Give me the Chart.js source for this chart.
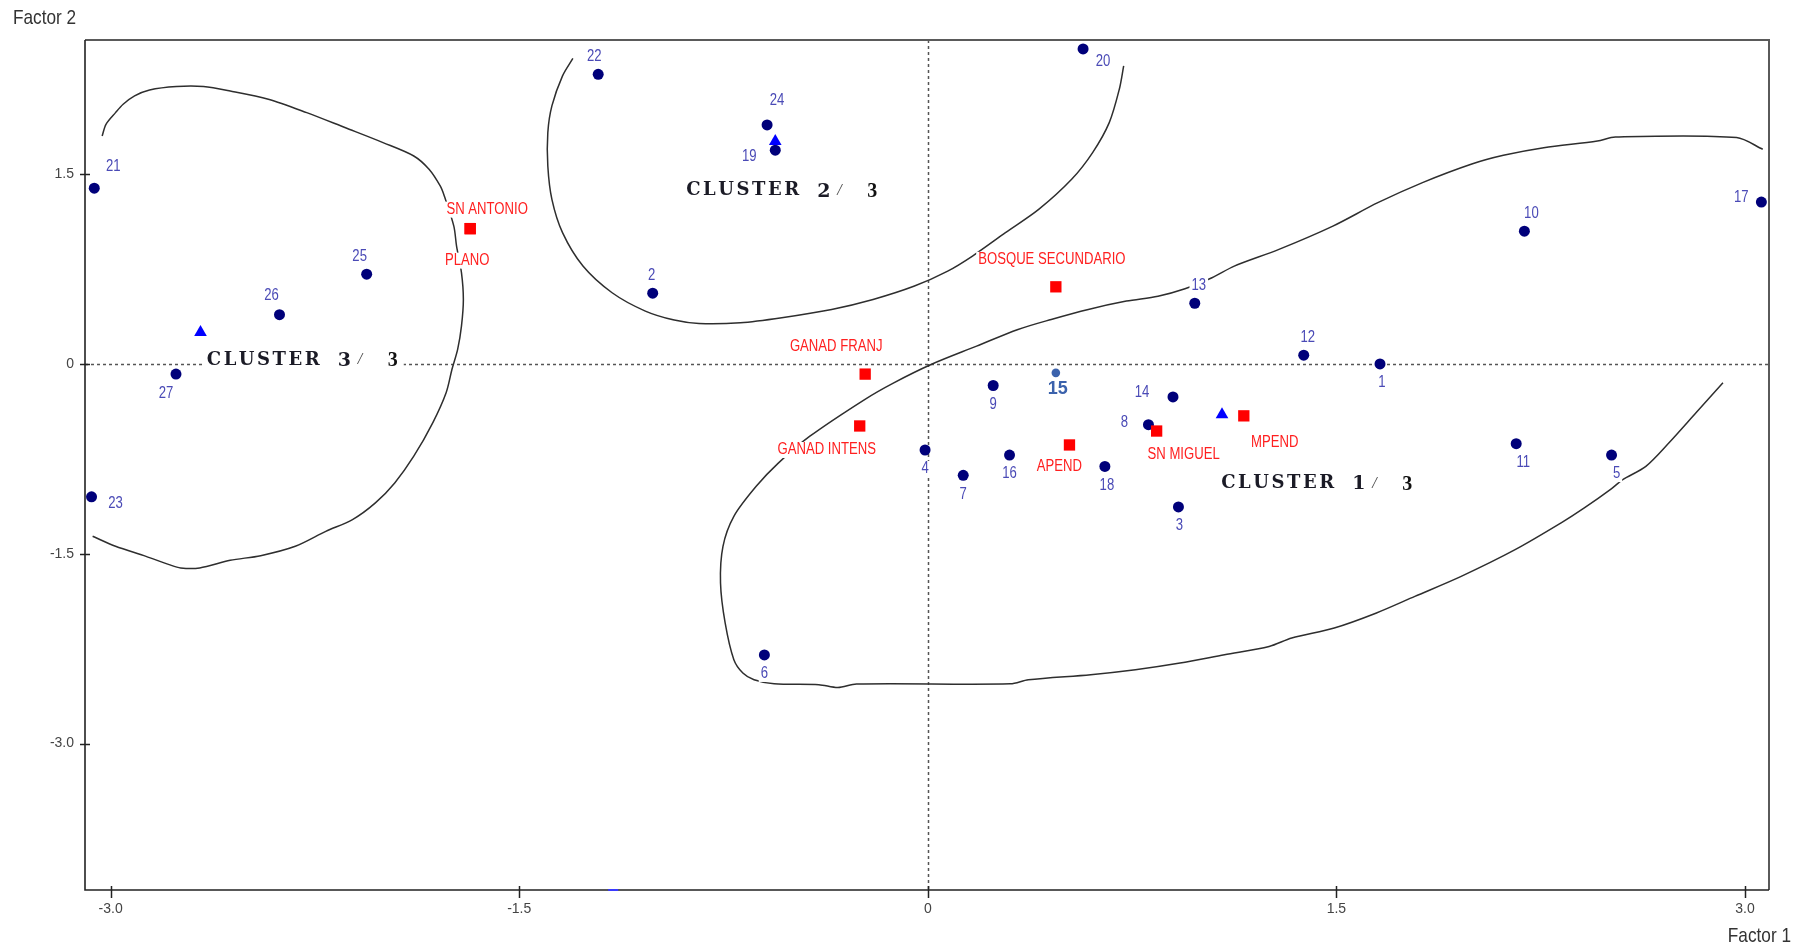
<!DOCTYPE html>
<html>
<head>
<meta charset="utf-8">
<title>Factor map – clusters</title>
<script src="https://cdn.jsdelivr.net/npm/chart.js@4.4.1/dist/chart.umd.min.js"></script>
<style>
  html, body { margin: 0; padding: 0; background: #ffffff; }
  canvas { display: block; }
</style>
</head>
<body>
<canvas id="map" width="1804" height="949"></canvas>
<script>
// ---------- data ----------
const xTickValues = [-3.0, -1.5, 0, 1.5, 3.0];
const xTickLabels = ['-3.0', '-1.5', '0', '1.5', '3.0'];
const yTickValues = [1.5, 0, -1.5, -3.0];
const yTickLabels = ['1.5', '0', '-1.5', '-3.0'];

// observations (factor 1, factor 2)
const obsIds = ['1','2','3','4','5','6','7','8','9','10','11','12','13','14','15','16','17','18','19','20','21','22','23','24','25','26','27'];
const obsF1 = [1.66, -1.01, 0.92, -0.01, 2.51, -0.60, 0.13, 0.81, 0.24, 2.19, 2.16, 1.38, 0.98, 0.90, 0.47, 0.30, 3.06, 0.65, -0.56, 0.57, -3.06, -1.21, -3.07, -0.59, -2.06, -2.38, -2.76];
const obsF2 = [0.00, 0.56, -1.13, -0.68, -0.72, -2.30, -0.88, -0.48, -0.17, 1.05, -0.63, 0.07, 0.48, -0.26, -0.07, -0.72, 1.28, -0.81, 1.69, 2.49, 1.39, 2.29, -1.05, 1.89, 0.71, 0.39, -0.08];

// supplementary categories
const catNames = ['SN ANTONIO', 'PLANO', 'BOSQUE SECUNDARIO', 'GANAD FRANJ', 'GANAD INTENS', 'APEND', 'SN MIGUEL', 'MPEND'];
const catF1 = [-1.68, -1.68, 0.47, -0.23, -0.25, 0.52, 0.84, 1.16];
const catF2 = [1.07, 1.07, 0.61, -0.08, -0.49, -0.64, -0.53, -0.41];

// cluster centroids and their captions
const clusterNums = ['1', '2', '3'];
const clusterCount = '3';
const centroidF1 = [1.08, -0.56, -2.67];
const centroidF2 = [-0.40, 1.76, 0.25];
const clusterLabelF1 = [1.077, -0.887, -2.647];
const clusterLabelF2 = [-0.944, 1.37, 0.032];

// marker sitting on the lower frame edge
const edgeF1 = [-1.155];
const edgeF2 = [-4.158];

// cluster envelopes [factor 1, factor 2]
const envelope1 = [
  [3.065, 1.697], [2.969, 1.790], [2.524, 1.794], [2.458, 1.763], [2.261, 1.710], [2.113, 1.650],
  [1.997, 1.581], [1.816, 1.434], [1.652, 1.275], [1.487, 1.090], [1.289, 0.906], [1.125, 0.774],
  [1.043, 0.682], [0.944, 0.595], [0.845, 0.536], [0.729, 0.497], [0.589, 0.431], [0.453, 0.352],
  [0.331, 0.273], [0.179, 0.141], [0.012, -0.004], [-0.125, -0.149], [-0.232, -0.281],
  [-0.433, -0.571], [-0.548, -0.782], [-0.630, -0.967], [-0.712, -1.204], [-0.752, -1.441],
  [-0.761, -1.731], [-0.744, -2.047], [-0.712, -2.338], [-0.679, -2.443], [-0.638, -2.496],
  [-0.564, -2.528], [-0.400, -2.535], [-0.330, -2.558], [-0.262, -2.530], [0.303, -2.528],
  [0.369, -2.496], [0.598, -2.456], [0.762, -2.417], [0.926, -2.364], [1.089, -2.298],
  [1.253, -2.233], [1.336, -2.166], [1.492, -2.087], [1.647, -1.968], [1.788, -1.837],
  [1.958, -1.679], [2.156, -1.468], [2.325, -1.256], [2.410, -1.138], [2.509, -0.987],
  [2.551, -0.914], [2.636, -0.809], [2.721, -0.623], [2.820, -0.386], [2.919, -0.149]
];
const envelope2 = [
  [-1.303, 2.415], [-1.341, 2.277], [-1.380, 2.040], [-1.395, 1.829], [-1.395, 1.565],
  [-1.380, 1.301], [-1.341, 1.038], [-1.266, 0.774], [-1.159, 0.563], [-1.037, 0.418],
  [-0.931, 0.347], [-0.840, 0.320], [-0.688, 0.326], [-0.536, 0.366], [-0.353, 0.431],
  [-0.201, 0.510], [-0.049, 0.616], [0.073, 0.734], [0.164, 0.853], [0.285, 1.038],
  [0.407, 1.222], [0.528, 1.460], [0.605, 1.671], [0.666, 1.908], [0.703, 2.172], [0.719, 2.356]
];
const envelope3 = [
  [-3.031, 1.802], [-3.017, 1.895], [-2.982, 1.987], [-2.954, 2.053], [-2.912, 2.119],
  [-2.857, 2.166], [-2.758, 2.193], [-2.659, 2.193], [-2.561, 2.158], [-2.421, 2.093],
  [-2.280, 1.987], [-2.140, 1.869], [-2.000, 1.750], [-1.887, 1.644], [-1.831, 1.539],
  [-1.790, 1.407], [-1.775, 1.328], [-1.740, 1.090], [-1.730, 0.932], [-1.712, 0.722],
  [-1.705, 0.510], [-1.712, 0.299], [-1.726, 0.115], [-1.747, -0.044], [-1.768, -0.225],
  [-1.817, -0.463], [-1.887, -0.729], [-1.957, -0.940], [-2.028, -1.098], [-2.112, -1.230],
  [-2.210, -1.323], [-2.322, -1.441], [-2.449, -1.515], [-2.561, -1.552], [-2.673, -1.612],
  [-2.743, -1.612], [-2.785, -1.586], [-2.870, -1.521], [-2.982, -1.441], [-3.066, -1.362]
];

// ---------- layout / style ----------
// label offsets from their marker, in pixels (label centre)
const obsLabelOffset = {
  '1': [2, 19], '2': [-1, -18], '3': [1, 19], '4': [0, 19], '5': [5, 19], '6': [0, 19],
  '7': [0, 19], '8': [-24, -2], '9': [0, 19], '10': [7, -18], '11': [7, 19], '12': [4, -18],
  '13': [4, -18], '14': [-31, -4], '15': [2, 16], '16': [0, 19], '17': [-20, -4], '18': [2, 19],
  '19': [-26, 6], '20': [20, 13], '21': [19, -22], '22': [-4, -18], '23': [24, 7], '24': [10, -24],
  '25': [-7, -18], '26': [-8, -19], '27': [-10, 19]
};
const catLabelOffset = {
  'SN ANTONIO': [17, -19], 'PLANO': [-3, 32], 'BOSQUE SECUNDARIO': [-4, -27],
  'GANAD FRANJ': [-29, -28], 'GANAD INTENS': [-33, 24], 'APEND': [-10, 22],
  'SN MIGUEL': [27, 24], 'MPEND': [31, 27]
};

function fontAvailable(name) {
  const c = document.createElement('canvas').getContext('2d');
  const probe = 'mmmmWWiil10ABC';
  c.font = '40px monospace';
  const a = c.measureText(probe).width;
  c.font = '40px "' + name + '", monospace';
  return c.measureText(probe).width !== a;
}
const HAS_NARROW = fontAvailable('Liberation Sans Narrow');
const NARROW_FAMILY = HAS_NARROW ? '"Liberation Sans Narrow"' : '"Liberation Sans", Arial';
const NARROW_SCALE = HAS_NARROW ? 1 : 0.82;

const NAVY = '#00007a';
const OBS_LABEL = '#4a4ab6';
const RED = '#ff2020';
const STEEL = '#3b62ac';

// condensed text with an optional white backing box
function drawLabel(ctx, text, cx, cy, size, color, opts = {}) {
  ctx.save();
  const weight = opts.bold ? 'bold ' : '';
  const narrow = !opts.wide;
  ctx.font = weight + size + 'px ' + (narrow ? NARROW_FAMILY : '"Liberation Sans", Arial');
  const k = narrow ? NARROW_SCALE : 1;
  const w = ctx.measureText(text).width * k;
  const align = opts.align || 'center';
  let left = cx - w / 2;
  if (align === 'left') left = cx;
  if (align === 'right') left = cx - w;
  if (opts.box) {
    ctx.fillStyle = '#ffffff';
    ctx.fillRect(left - 2, cy - size * 0.5, w + 4, size);
  }
  ctx.translate(left, cy);
  ctx.scale(k, 1);
  ctx.textAlign = 'left';
  ctx.textBaseline = 'middle';
  ctx.fillStyle = color;
  ctx.fillText(text, 0, 0);
  ctx.restore();
}

function drawPointLabels(chart) {
  const { ctx, scales: { x, y } } = chart;
  obsIds.forEach((id, i) => {
    const off = obsLabelOffset[id] || [0, 18];
    const px = x.getPixelForValue(obsF1[i]) + off[0];
    const py = y.getPixelForValue(obsF2[i]) + off[1];
    if (id === '15') {
      drawLabel(ctx, id, px, py, 18, STEEL, { box: true, bold: true, wide: true });
    } else {
      drawLabel(ctx, id, px, py, 16, OBS_LABEL, { box: true });
    }
  });
  catNames.forEach((name, i) => {
    const off = catLabelOffset[name] || [0, -18];
    const px = x.getPixelForValue(catF1[i]) + off[0];
    const py = y.getPixelForValue(catF2[i]) + off[1];
    drawLabel(ctx, name, px, py, 16, RED, { box: true });
  });
}

function drawClusterCaptions(chart) {
  const { ctx, scales: { x, y } } = chart;
  clusterNums.forEach((num, i) => {
    const left = x.getPixelForValue(clusterLabelF1[i]);
    const cy = y.getPixelForValue(clusterLabelF2[i]);
    ctx.save();
    ctx.fillStyle = '#ffffff';
    ctx.fillRect(left - 3, cy - 11, 200, 22);
    ctx.textBaseline = 'middle';
    ctx.textAlign = 'left';
    // spaced bold serif word
    const word = 'CLUSTER';
    ctx.font = 'bold 18px "DejaVu Serif", "Liberation Serif", serif';
    const target = 112;
    const natural = ctx.measureText(word).width;
    const gap = (target - natural) / (word.length - 1);
    let cx = left;
    ctx.fillStyle = '#1b1b26';
    for (const ch of word) {
      ctx.fillText(ch, cx, cy);
      cx += ctx.measureText(ch).width + gap;
    }
    ctx.font = 'bold 19px "DejaVu Serif", "Liberation Serif", serif';
    ctx.fillText(num, left + 131, cy + 1);
    ctx.font = 'italic 16px "Liberation Serif", serif';
    ctx.fillStyle = '#444';
    ctx.fillText('/', left + 151, cy);
    ctx.font = 'bold 20px "Liberation Serif", serif';
    ctx.fillStyle = '#111';
    ctx.fillText(clusterCount, left + 181, cy + 1);
    ctx.restore();
  });
}

let labelsDrawn = false;
const mapDecor = {
  id: 'mapDecor',
  beforeDatasetsDraw(chart) {
    const { ctx, chartArea: a, scales: { x, y } } = chart;
    ctx.save();
    // dotted origin lines
    const x0 = Math.round(x.getPixelForValue(0)) + 0.5;
    const y0 = Math.round(y.getPixelForValue(0)) + 0.5;
    ctx.strokeStyle = '#555';
    ctx.lineWidth = 1.5;
    ctx.setLineDash([3, 3]);
    ctx.beginPath();
    ctx.moveTo(x0, a.top); ctx.lineTo(x0, a.bottom);
    ctx.moveTo(a.left, y0); ctx.lineTo(a.right, y0);
    ctx.stroke();
    ctx.setLineDash([]);
    // frame: top/right lighter, axes darker
    ctx.strokeStyle = '#5a5a5a';
    ctx.lineWidth = 2;
    ctx.beginPath();
    ctx.moveTo(a.left, a.top); ctx.lineTo(a.right, a.top); ctx.lineTo(a.right, a.bottom);
    ctx.stroke();
    ctx.strokeStyle = '#222';
    ctx.lineWidth = 1.6;
    ctx.beginPath();
    ctx.moveTo(a.left, a.top); ctx.lineTo(a.left, a.bottom); ctx.lineTo(a.right, a.bottom);
    ctx.stroke();
    // tick marks crossing the axes
    ctx.lineWidth = 1.5;
    xTickValues.forEach(v => {
      const px = Math.round(x.getPixelForValue(v)) + 0.5;
      ctx.beginPath(); ctx.moveTo(px, a.bottom - 4); ctx.lineTo(px, a.bottom + 8); ctx.stroke();
    });
    yTickValues.forEach(v => {
      const py = Math.round(y.getPixelForValue(v)) + 0.5;
      ctx.beginPath(); ctx.moveTo(a.left - 5, py); ctx.lineTo(a.left + 5, py); ctx.stroke();
    });
    ctx.restore();
    labelsDrawn = false;
  },
  beforeDatasetDraw(chart, args) {
    if (!labelsDrawn && chart.data.datasets[args.index].isMarker) {
      drawPointLabels(chart);
      labelsDrawn = true;
    }
  },
  afterDatasetsDraw(chart) {
    if (!labelsDrawn) { drawPointLabels(chart); labelsDrawn = true; }
    drawClusterCaptions(chart);
  },
  afterDraw(chart) {
    const { ctx } = chart;
    drawLabel(ctx, 'Factor 2', 13, 18, 21, '#333', { align: 'left' });
    drawLabel(ctx, 'Factor 1', 1791, 936, 21, '#333', { align: 'right' });
  }
};

const toPoints = arr => arr.map(p => ({ x: p[0], y: p[1] }));
const envelopeStyle = {
  showLine: true, pointRadius: 0, borderColor: '#2e2e2e', borderWidth: 1.5,
  tension: 0.3, fill: false, order: 10
};

const datasets = [
  Object.assign({ label: 'Envelope 1', data: toPoints(envelope1) }, envelopeStyle),
  Object.assign({ label: 'Envelope 2', data: toPoints(envelope2) }, envelopeStyle),
  Object.assign({ label: 'Envelope 3', data: toPoints(envelope3) }, envelopeStyle),
  {
    label: 'Observations', isMarker: true, order: 3,
    data: obsIds.map((id, i) => ({ x: obsF1[i], y: obsF2[i] })),
    pointStyle: 'circle',
    pointRadius: c => obsIds[c.dataIndex] === '15' ? 4.3 : 5.5,
    backgroundColor: c => obsIds[c.dataIndex] === '15' ? STEEL : NAVY,
    borderColor: c => obsIds[c.dataIndex] === '15' ? STEEL : NAVY,
    borderWidth: 0
  },
  {
    label: 'Categories', isMarker: true, order: 2,
    data: catNames.map((n, i) => ({ x: catF1[i], y: catF2[i] })),
    pointStyle: 'rect', pointRadius: 8, backgroundColor: '#ff0000', borderColor: '#ff0000', borderWidth: 0
  },
  {
    label: 'Centroids', isMarker: true, order: 1,
    data: clusterNums.map((n, i) => ({ x: centroidF1[i], y: centroidF2[i] })),
    pointStyle: 'triangle', pointRadius: 7.3, backgroundColor: '#0000ff', borderColor: '#0000ff', borderWidth: 0
  },
  {
    label: 'Edge mark', isMarker: true, order: 1, clip: false,
    data: edgeF1.map((v, i) => ({ x: v, y: edgeF2[i] })),
    pointStyle: 'line', pointRadius: 5, borderColor: '#3a3aff', borderWidth: 2
  }
];

const tickFont = { family: HAS_NARROW ? 'Liberation Sans Narrow' : 'Liberation Sans', size: HAS_NARROW ? 16 : 14 };

new Chart(document.getElementById('map'), {
  type: 'scatter',
  data: { datasets },
  options: {
    responsive: false,
    animation: false,
    layout: { padding: { left: 0, top: 40, right: 35, bottom: 0 } },
    plugins: { legend: { display: false }, tooltip: { enabled: false } },
    elements: { point: { hoverRadius: 0 } },
    scales: {
      x: {
        type: 'linear', min: -3.094, max: 3.088,
        grid: { display: false, drawTicks: false },
        border: { display: false },
        afterBuildTicks: s => { s.ticks = xTickValues.map(v => ({ value: v })); },
        afterFit: s => { s.height = 59; },
        ticks: {
          autoSkip: false, maxRotation: 0, padding: 11, color: '#444', font: tickFont,
          callback: v => xTickLabels[xTickValues.indexOf(v)]
        }
      },
      y: {
        type: 'linear', min: -4.158, max: 2.561,
        grid: { display: false, drawTicks: false },
        border: { display: false },
        afterBuildTicks: s => { s.ticks = yTickValues.map(v => ({ value: v })); },
        afterFit: s => { s.width = 85; },
        ticks: {
          autoSkip: false, padding: 11, color: '#444', font: tickFont,
          callback: v => yTickLabels[yTickValues.indexOf(v)]
        }
      }
    }
  },
  plugins: [mapDecor]
});
</script>
</body>
</html>
